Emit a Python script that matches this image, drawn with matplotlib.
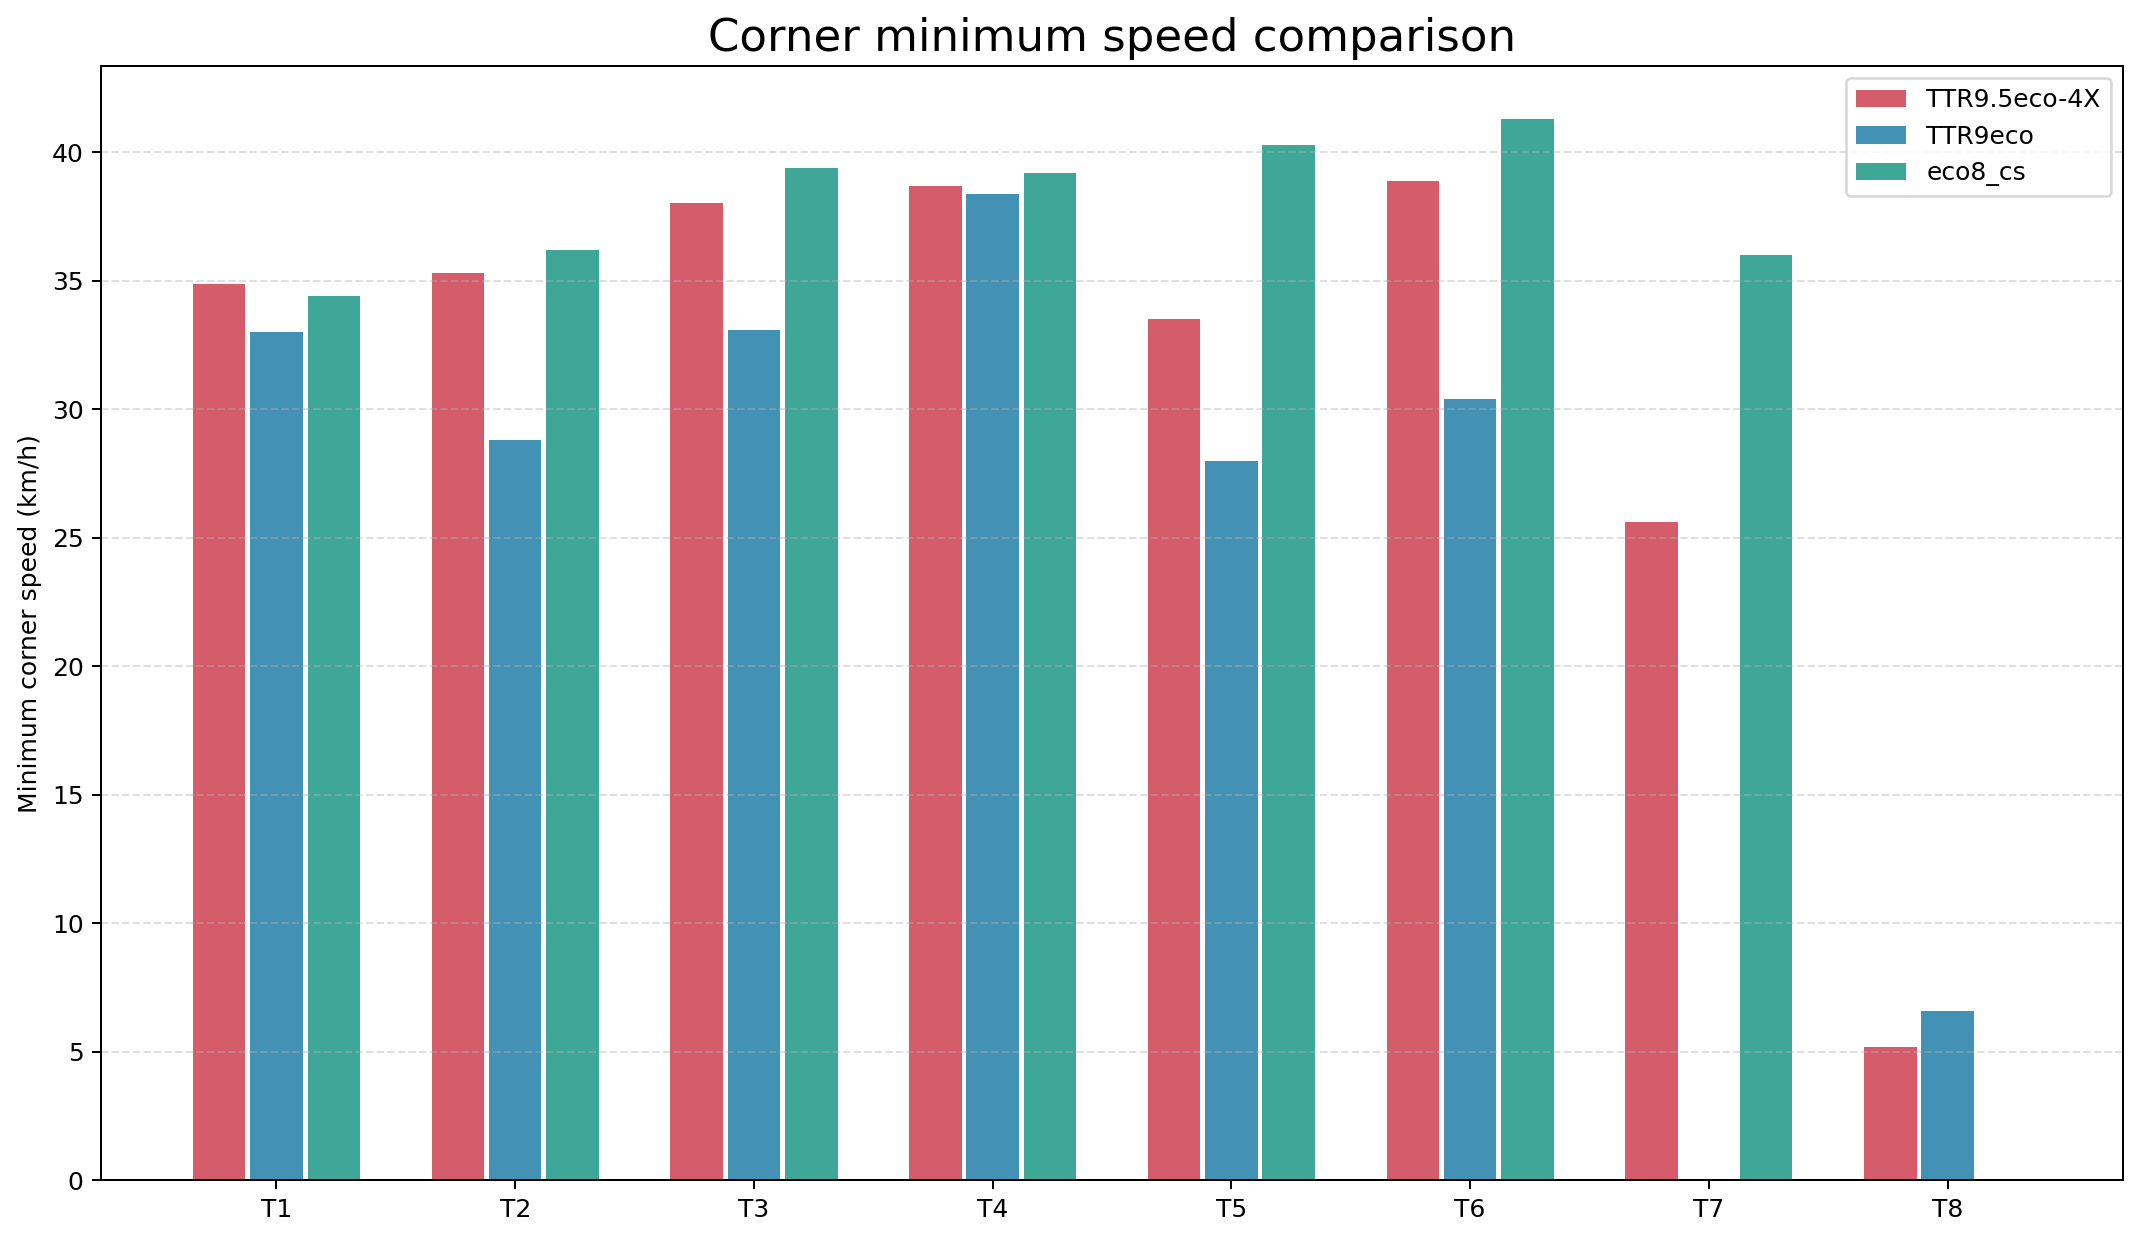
import numpy as np
import matplotlib
matplotlib.use("Agg")
import matplotlib.pyplot as plt

corners = ["T1", "T2", "T3", "T4", "T5", "T6", "T7", "T8"]
ttr95 = [34.9, 35.3, 38.05, 38.7, 33.5, 38.9, 25.6, 5.2]
ttr9 = [33.0, 28.8, 33.1, 38.4, 28.0, 30.4, 0.0, 6.6]
eco8 = [34.4, 36.2, 39.4, 39.2, 40.3, 41.3, 36.0, 0.0]

series = [("TTR9.5eco-4X", ttr95, "#d55c6a"),
          ("TTR9eco", ttr9, "#4391b4"),
          ("eco8_cs", eco8, "#3fa798")]

fig = plt.figure(figsize=(2140 / 180, 1240 / 180), dpi=180)
ax = fig.add_axes([0.0472, 0.0481, 0.9449, 0.8987])

x = np.arange(len(corners))
step = 0.24
w = 0.22
for i, (name, vals, col) in enumerate(series):
    ax.bar(x + (i - 1) * step, vals, w, label=name, color=col)

ax.set_xticks(x)
ax.set_xticklabels(corners)
ax.set_ylabel("Minimum corner speed (km/h)")
ax.set_title("Corner minimum speed comparison", fontsize=18)
ax.yaxis.grid(True, linestyle="--", alpha=0.4)
ax.legend(loc="upper right")

fig.savefig("out.png", dpi=180)
